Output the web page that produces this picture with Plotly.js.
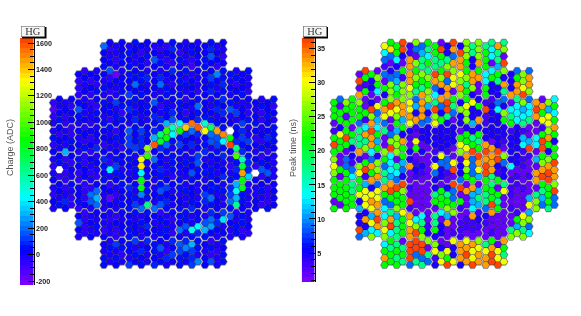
<!DOCTYPE html>
<html><head><meta charset="utf-8">
<script src="https://cdn.plot.ly/plotly-3.0.1.min.js"></script>
<style>html,body{margin:0;padding:0;background:#fff;overflow:hidden}#plot{width:581px;height:316px;filter:blur(0.3px)}</style>
</head><body><div id="plot"></div>
<script>
// Charge (ADC): rows of the camera, top to bottom, each read left to right
const q00=[210,20,-20,30,-30,40,10,30,-40,30,-60,40,10,-20,30,-40,10,60,-30,20];
const q01=[30,-60,-30,20,50,10,-70,-20,20,-50,10,70,-60,-20,40,20,30,100,20,-30];
const q02=[10,-40,-70,40,20,-30,30,60,150,-10,-50,30,50,-30,-60,10,40,150,10,-50];
const q03=[60,10,-20,30,40,-40,20,-60,20,60,-30,-70,10,-40,-90,30,50,10,-50,20];
const q10=[20,-70,10,-40,30,170,-170,-10,40,20,60,-20,30,-30,10,70,10,40,-40,20,30,10,220,60,40,-30,20,60];
const q11=[-50,20,-60,30,-20,-60,30,20,10,40,60,80,20,70,-30,10,40,-40,30,-30,10,120,20,40,-30,50,10,-20];
const q12=[-70,-30,20,-50,40,30,-40,10,20,210,10,-30,30,200,40,-50,10,60,20,-20,30,40,-30,80,20,-50,30,-20];
const q13=[-80,10,-60,40,-30,-70,-20,50,120,20,60,30,-40,-20,40,10,50,-30,30,-60,20,100,10,60,-30,10,50,-70];
const q20=[-60,20,-40,10,30,-20,-50,30,60,-30,120,20,40,60,20,-30,150,30,-40,10,50,-60,20,60,10,-20,40,100,60,30,-30,20,30,-40,10,60];
const q21=[-120,-30,20,-60,150,20,-30,-70,10,30,-40,50,70,-20,30,60,20,-50,40,-20,60,30,-30,200,30,-40,80,10,170,-30,20,-20,-40,60,20,-50];
const q22=[-70,10,-50,30,60,-40,-20,40,-30,20,50,-60,30,60,-40,20,80,-20,10,70,30,-60,20,40,60,10,-30,70,-20,130,30,-50,10,-70,40,30];
const q23=[-30,40,-70,20,-20,30,-60,10,40,-50,20,60,-40,70,10,-30,50,80,300,170,430,60,1560,90,500,40,60,10,30,-30,110,40,50,-60,10,-30];
const q30=[-20,30,-40,-70,20,-60,30,-30,10,40,-50,30,150,60,110,20,90,40,950,550,870,1400,200,1600,1300,680,1480,60,1800,40,80,-20,30,-40,20,60];
const q31=[40,-50,20,-60,-30,30,-70,20,30,-40,60,10,130,20,70,40,330,700,870,430,60,120,30,90,20,210,170,1500,880,30,130,-10,-50,20,70,40];
const q32=[-60,20,-30,40,30,-50,10,-40,-70,30,-20,60,130,60,100,30,1600,800,200,50,110,30,70,-20,40,150,110,430,1620,70,40,130,10,-60,30,50];
const q33=[30,-40,310,20,-20,40,-60,70,30,-30,20,-50,60,120,40,1150,30,80,40,-30,60,20,-40,30,80,-20,50,40,20,640,90,30,-30,40,-60,20];
const q40=[-30,30,-50,20,40,-60,20,-40,100,-30,50,20,40,-20,1300,950,210,30,-20,60,30,-30,50,120,-20,60,30,90,-40,1000,520,50,10,-50,30,-20];
const q41=[-60,40,-30,-60,20,-50,-20,30,60,-70,130,20,30,10,1340,-30,50,20,-40,60,30,60,20,180,30,-30,20,-20,-60,60,750,100,-70,50,20,-30];
const q42=[-40,1800,-60,30,-50,20,-70,-30,30,430,50,-40,-20,40,430,20,30,70,-30,40,-40,20,170,50,40,60,-20,30,-30,70,1480,80,1800,150,170,-40];
const q43=[20,-50,-70,-20,-60,30,-30,-70,40,-20,30,60,30,-40,850,60,-20,40,20,-50,60,-30,40,20,-30,50,10,70,40,50,860,360,20,-60,30,-30];
const q50=[-30,20,-60,40,20,-50,-70,30,20,-60,-30,50,80,20,850,30,-30,40,110,20,50,-20,30,-40,20,60,40,-20,70,320,820,-30,-40,20,-60,30];
const q51=[-60,30,-40,-20,10,-70,210,200,-40,30,-50,20,60,-30,230,40,30,170,20,-30,-20,50,30,-40,130,40,-20,60,120,430,40,-30,-20,40,-50,30];
const q52=[30,-40,80,-50,40,-60,180,300,-30,-170,-40,20,30,60,-20,50,-10,40,80,30,20,-30,60,-40,90,190,30,-20,210,320,60,-40,30,-30,-60,20];
const q53=[-30,50,20,-60,-50,30,-20,190,-40,20,-30,40,60,110,200,650,200,180,40,-30,50,-20,70,30,-30,60,20,-30,60,620,30,-40,20,-50,40,10];
const q60=[30,-70,-30,20,20,-40,-60,30,10,40,-20,60,30,-50,-30,20,40,60,-20,30,-30,80,20,110,170,-20,40,-30];
const q61=[150,-50,20,-30,-20,-70,30,-40,30,-30,50,10,-20,60,30,-50,20,40,-30,60,170,200,90,400,30,-30,50,-20];
const q62=[20,-60,-30,60,-50,-30,-70,20,40,30,-20,70,10,-40,60,-30,210,170,470,430,330,260,30,-30,-20,40,-60,20];
const q63=[-40,-70,20,-30,10,-40,-60,-20,50,20,-30,30,-40,60,20,-50,30,-30,60,90,60,30,-40,20,-30,50,-40,-70];
const q70=[30,-40,140,20,60,120,-30,80,40,20,-20,70,180,90,310,40,30,-50,-30,60];
const q71=[-20,40,-30,60,30,-40,70,20,60,150,-70,30,120,230,130,50,-30,40,-60,20];
const q72=[50,-30,40,-60,-20,50,30,-40,30,-30,70,110,40,60,90,-20,30,-60,-30,50];
const q73=[60,-40,20,-30,120,30,60,-30,70,40,-20,30,50,20,120,240,30,170,-40,60];
const chargeRows=[q00,q01,q02,q03,q10,q11,q12,q13,q20,q21,q22,q23,q30,q31,q32,q33,q40,q41,q42,q43,q50,q51,q52,q53,q60,q61,q62,q63,q70,q71,q72,q73];

// Peak time (ns), same cell order
const t00=[30,22,22,36,3.5,26,9,22,22,2,5,36,5,26,17.5,26,17.5,17.5,33.5,17.5];
const t01=[13.5,31,22,36,3.5,9,11,17.5,22,36,5,33.5,36,26,17.5,26,22,13.5,17.5,26];
const t02=[9,9,13.5,5,33.5,2,17.5,13.5,17.5,22,17.5,9,33.5,26,5,26,22,13.5,17.5,2];
const t03=[3.5,2,5,2,33.5,26,17.5,22,17.5,17.5,26,33.5,33.5,22,5,33.5,22,2,11,36];
const t10=[2,36,22,2,9,5,9,22,33.5,22,26,17.5,36,22,36,26,30,22,33.5,22,13.5,13.5,22,26,5,9,26,9];
const t11=[36,22,5,26,2,9,11,3.5,33.5,26,22,26,33.5,26,9,30,26,26,33.5,33.5,13.5,22,17.5,5,5,22,26,33.5];
const t12=[2,3.5,5,22,22,26,17.5,26,30,22,17.5,22,9,33.5,33.5,30,33.5,17.5,26,2,22,5,5,33.5,5,33.5,30,33.5];
const t13=[33.5,22,2,13.5,5,26,22,26,26,17.5,33.5,26,13.5,5,33.5,2,26,22,5,2,22,5,5,17.5,33.5,33.5,36,26];
const t20=[22,9,26,22,26,2,5,2,22,26,33.5,26,30,9,33.5,26,17.5,33.5,36,22,5,22,30,5,3.5,3.5,9,9,2,17.5,26,9,33.5,2,26,13.5];
const t21=[22,2,22,22,22,2,36,30,33.5,36,30,33.5,30,11,33.5,11,36,9,36,17.5,26,30,5,22,36,5,13.5,5,13.5,13.5,11,13.5,36,33.5,11,22];
const t22=[22,22,2,22,22,22,26,9,30,30,26,33.5,33.5,5,33.5,5,26,5,17.5,9,5,26,5,5,3.5,5,5,26,17.5,13.5,13.5,13.5,33.5,22,30,13.5];
const t23=[2,22,22,22,9,3.5,33.5,11,9,2,22,11,30,33.5,9,9,30,22,5,2,5,26,11,33.5,3.5,5,5,22,22,13.5,17.5,17.5,2,30,30,22];
const t30=[3.5,5,22,2,17.5,13.5,36,13.5,17.5,2,11,22,5,3.5,5,5,5,5,5,5,2,5,5,5,5,5,5,5,3.5,5,3.5,2,2,3.5,26,33.5];
const t31=[22,30,36,22,17.5,33.5,33.5,22,2,9,26,5,3.5,2,5,5,5,5,5,5,22,22,17.5,22,5,5,5,5,5,5,11,2,13.5,22,33.5,22];
const t32=[36,22,22,17.5,17.5,17.5,33.5,11,2,26,26,33.5,2,30,2,5,5,5,5,5,30,22,22,17.5,33.5,2,5,3.5,5,5,13.5,11,13.5,36,22,5];
const t33=[22,22,2,5,33.5,26,13.5,22,26,36,26,22,5,22,5,2,3.5,5,3.5,2,26,30,36,22,36,33.5,36,2,5,5,3.5,36,2,36,5,22];
const t40=[26,2,9,5,3.5,2,9,5,22,13.5,2,22,5,2,2,2,5,30,9,2,3.5,33.5,9,36,33.5,33.5,36,26,5,5,3.5,3.5,11,22,26,22];
const t41=[30,2,9,3.5,26,22,33.5,26,9,13.5,17.5,11,33.5,3.5,5,2,30,9,9,30,5,30,9,33.5,36,33.5,5,9,13.5,5,3.5,2,2,26,33.5,36];
const t42=[26,22,22,9,30,36,22,26,17.5,13.5,13.5,9,2,5,3.5,2,9,5,3.5,36,5,26,9,30,36,33.5,3.5,5,2,2,2,2,33.5,33.5,36,33.5];
const t43=[22,2,22,13.5,22,3.5,33.5,33.5,17.5,11,9,5,2,3.5,2,2,5,5,2,2,9,22,22,11,22,17.5,22,5,3.5,3.5,2,3.5,33.5,36,36,33.5];
const t50=[22,22,22,17.5,22,11,5,9,33.5,33.5,36,36,3.5,2,2,2,5,2,5,36,36,2,33.5,2,22,17.5,2,17.5,3.5,3.5,3.5,2,2,22,22,26];
const t51=[22,22,22,17.5,30,30,30,30,22,36,22,26,2,2,2,2,17.5,22,17.5,9,2,33.5,11,11,17.5,22,22,30,3.5,2,2,2,17.5,17.5,22,36];
const t52=[2,22,22,22,5,30,33.5,30,9,22,22,22,36,2,2,2,22,22,22,9,22,2,11,17.5,17.5,22,17.5,2,2,2,2,11,26,11,22,9];
const t53=[22,2,22,22,11,30,30,33.5,13.5,9,26,22,3.5,2,2,2,2,22,26,22,3.5,2,13.5,11,9,36,22,2,3.5,2,2,30,26,9,17.5,9];
const t60=[5,5,11,33.5,13.5,17.5,11,30,33.5,2,13.5,2,17.5,13.5,11,26,2,2,33.5,3.5,5,33.5,2,2,2,3.5,30,11];
const t61=[5,33.5,30,36,26,33.5,17.5,22,30,13.5,17.5,2,17.5,2,33.5,2,3.5,3.5,3.5,5,3.5,2,2,2,2,22,26,26];
const t62=[36,5,13.5,33.5,30,36,17.5,22,33.5,26,22,3.5,22,5,2,2,3.5,3.5,3.5,3.5,2,2,2,2,17.5,11,17.5,9];
const t63=[9,11,26,13.5,26,13.5,17.5,22,33.5,36,26,5,5,5,2,3.5,3.5,2,2,2,2,3.5,2,2,26,26,26,13.5];
const t70=[13.5,22,17.5,2,36,36,36,26,26,2,2,30,33.5,30,33.5,26,17.5,22,2,33.5];
const t71=[22,17.5,22,17.5,36,36,36,2,30,5,30,5,33.5,33.5,30,30,30,33.5,30,22];
const t72=[33.5,22,17.5,22,36,9,9,17.5,3.5,26,22,5,33.5,36,30,33.5,33.5,36,30,17.5];
const t73=[22,22,22,17.5,9,17.5,17.5,9,5,30,36,30,5,33.5,36,33.5,33.5,36,36,30];
const timeRows=[t00,t01,t02,t03,t10,t11,t12,t13,t20,t21,t22,t23,t30,t31,t32,t33,t40,t41,t42,t43,t50,t51,t52,t53,t60,t61,t62,t63,t70,t71,t72,t73];

// modules per module-row and the first module column of that row
const modulesInRow=[5,7,9,9,9,9,7,5];
const firstModule=[2,1,0,0,0,0,1,2];

const chargeTicks=[-200,0,200,400,600,800,1000,1200,1400,1600];
const chargeTickText=['-200','0','200','400','600','800','1000','1200','1400','1600'];
const timeTicks=[5,10,15,20,25,30,35];
const chargeTitle='Charge (ADC)', timeTitle='Peak time (ns)', gainLabel='HG';

// layout constants (px)
const W=581,H=316,COL=6.07,MOD_W=25.28,ROW=6.9,MOD_H=28.35,R=4.2,HH=3.55;
const LEVELS=50;
const hueStops=[[0,[128,0,255]],[0.14,[0,0,255]],[0.353,[0,255,255]],[0.588,[0,255,0]],[0.824,[255,255,0]],[1,[255,56,0]]];
function hueAt(f){for(let i=1;i<hueStops.length;i++){if(f<=hueStops[i][0]){const a=hueStops[i-1],b=hueStops[i],t=(f-a[0])/(b[0]-a[0]);
  return 'rgb('+a[1].map((v,k)=>Math.round(v+(b[1][k]-v)*t)).join(',')+')';}}return 'rgb(255,56,0)';}
const steps=[];for(let i=0;i<LEVELS;i++){const c=hueAt((i+0.5)/LEVELS);steps.push([i/LEVELS,c],[(i+1)/LEVELS,c]);}

// edges of a cell, each with the neighbour (step in column, step in half rows) that shares it
const edges=[[0,-2,-R/2,-HH,R/2,-HH],[0,2,-R/2,HH,R/2,HH],[1,-1,R/2,-HH,R,0],[1,1,R,0,R/2,HH],[-1,-1,-R/2,-HH,-R,0],[-1,1,-R,0,-R/2,HH]];
function inModule(i,h){return i>=0&&i<=3&&(i%2===0?(h%2===1&&h>=1&&h<=7):(h%2===0&&h>=0&&h<=6));}

function cells(rows,cmax){
  const out={x:[],y:[],v:[],wx:[],wy:[],ax:[],ay:[],lx:[],ly:[]};let k=0;
  modulesInRow.forEach((n,mr)=>{for(let j=0;j<4;j++){const vals=rows[k++];
    vals.forEach((v,idx)=>{const c=idx+firstModule[mr]*4,m=Math.floor(c/4),i=c-m*4;
      const x=m*MOD_W+i*COL,y=mr*MOD_H+j*ROW+(c%2===0?ROW/2:0),h=2*j+(i%2===0?1:0);
      out.ax.push(x);out.ay.push(y);
      edges.forEach(e=>{if(!inModule(i+e[0],h+e[1])){out.lx.push(x+e[2],x+e[4],null);out.ly.push(y+e[3],y+e[5],null);}});
      if(v>cmax){out.wx.push(x);out.wy.push(y);}else{out.x.push(x);out.y.push(y);out.v.push(v);}});}});
  return out;}

function coreTrace(d,xa,ya){return {type:'scatter',mode:'markers',x:d.ax,y:d.ay,xaxis:xa,yaxis:ya,hoverinfo:'skip',
  marker:{symbol:'hexagon2',size:8.1,color:'#16164a',line:{width:0}}};}
function hexTrace(d,cmin,cmax,xa,ya){return {type:'scatter',mode:'markers',x:d.x,y:d.y,xaxis:xa,yaxis:ya,hoverinfo:'skip',
  marker:{symbol:'hexagon2',size:7.4,color:d.v,cmin:cmin,cmax:cmax,colorscale:steps,showscale:false,line:{width:0}}};}
function moduleTrace(d,xa,ya){return {type:'scatter',mode:'lines',x:d.lx,y:d.ly,xaxis:xa,yaxis:ya,hoverinfo:'skip',connectgaps:false,
  line:{color:'#9c9ca2',width:0.6}};}
function overTrace(d,xa,ya){return {type:'scatter',mode:'markers',x:d.wx,y:d.wy,xaxis:xa,yaxis:ya,hoverinfo:'skip',
  marker:{symbol:'hexagon2',size:8,color:'#ffffff',line:{width:0}}};}
function barTrace(cmin,cmax,xa,ya){const y=[],z=[];for(let i=0;i<LEVELS;i++){const v=cmin+(i+0.5)*(cmax-cmin)/LEVELS;y.push(v);z.push([v]);}
  return {type:'heatmap',x:[0],y:y,z:z,zmin:cmin,zmax:cmax,colorscale:steps,showscale:false,xaxis:xa,yaxis:ya,hoverinfo:'skip'};}

const qRange=[-230,1638],tRange=[0.74,36.6];
const qd=cells(chargeRows,qRange[1]),td=cells(timeRows,tRange[1]);
const data=[coreTrace(qd,'x','y'),hexTrace(qd,qRange[0],qRange[1],'x','y'),moduleTrace(qd,'x','y'),overTrace(qd,'x','y'),
  coreTrace(td,'x2','y2'),hexTrace(td,tRange[0],tRange[1],'x2','y2'),moduleTrace(td,'x2','y2'),
  barTrace(qRange[0],qRange[1],'x3','y3'),barTrace(tRange[0],tRange[1],'x4','y4')];

const px=x=>x/W, py=y=>1-y/H;
const hidden={visible:false,showgrid:false,zeroline:false};
const tickCommon={side:'right',showline:true,linecolor:'#000',linewidth:1,ticks:'inside',ticklen:6,tickcolor:'#000',tickwidth:1,showgrid:false,zeroline:false,
  tickfont:{family:'Liberation Sans, Arial, sans-serif',size:7.2,color:'#222',weight:'bold'}};
const layout={width:W,height:H,margin:{l:0,r:0,t:0,b:0},paper_bgcolor:'#fff',plot_bgcolor:'rgba(0,0,0,0)',showlegend:false,
  xaxis:{...hidden,domain:[px(40),px(285)],range:[-13.3,231.7],anchor:'y'},
  yaxis:{...hidden,domain:[py(275),py(30)],range:[232.5,-12.5],anchor:'x'},
  xaxis2:{...hidden,domain:[px(320.7),px(565.7)],range:[-13.3,231.7],anchor:'y2'},
  yaxis2:{...hidden,domain:[py(275),py(30)],range:[232.5,-12.5],anchor:'x2'},
  xaxis3:{...hidden,domain:[px(20),px(33.5)],anchor:'y3'},
  yaxis3:{...tickCommon,domain:[py(285),py(38)],range:qRange,anchor:'x3',tickmode:'array',tickvals:chargeTicks,ticktext:chargeTickText,
    minor:{dtick:50,ticks:'inside',ticklen:3.5,tickcolor:'#000',tickwidth:1,showgrid:false}},
  xaxis4:{...hidden,domain:[px(301.7),px(314.7)],anchor:'y4'},
  yaxis4:{...tickCommon,domain:[py(282),py(38)],range:tRange,anchor:'x4',tickmode:'array',tickvals:timeTicks,ticktext:timeTicks.map(String),
    minor:{dtick:1,ticks:'inside',ticklen:3.5,tickcolor:'#000',tickwidth:1,showgrid:false}},
  shapes:[
    {type:'rect',xref:'paper',yref:'paper',x0:px(22),x1:px(46.5),y0:py(38.5),y1:py(27),fillcolor:'#000',line:{width:0},layer:'above'},
    {type:'rect',xref:'paper',yref:'paper',x0:px(303.5),x1:px(328),y0:py(38.5),y1:py(27),fillcolor:'#000',line:{width:0},layer:'above'}
  ],
  annotations:[
    {xref:'paper',yref:'paper',x:px(10),y:py(148),text:chargeTitle,textangle:-90,showarrow:false,xanchor:'center',yanchor:'middle',font:{family:'Liberation Sans, Arial, sans-serif',size:9,color:'#555'}},
    {xref:'paper',yref:'paper',x:px(293),y:py(148),text:timeTitle,textangle:-90,showarrow:false,xanchor:'center',yanchor:'middle',font:{family:'Liberation Sans, Arial, sans-serif',size:9,color:'#555'}},
    {xref:'paper',yref:'paper',x:px(33),y:py(31.5),text:gainLabel,showarrow:false,xanchor:'center',yanchor:'middle',width:23,height:10,borderpad:0,borderwidth:0.5,bordercolor:'#555',bgcolor:'#f6f6f6',font:{family:'Liberation Serif, Times New Roman, serif',size:10.5,color:'#333'}},
    {xref:'paper',yref:'paper',x:px(314.5),y:py(31.5),text:gainLabel,showarrow:false,xanchor:'center',yanchor:'middle',width:23,height:10,borderpad:0,borderwidth:0.5,bordercolor:'#555',bgcolor:'#f6f6f6',font:{family:'Liberation Serif, Times New Roman, serif',size:10.5,color:'#333'}}
  ]};
Plotly.newPlot('plot',data,layout,{staticPlot:true,displayModeBar:false});
</script></body></html>
